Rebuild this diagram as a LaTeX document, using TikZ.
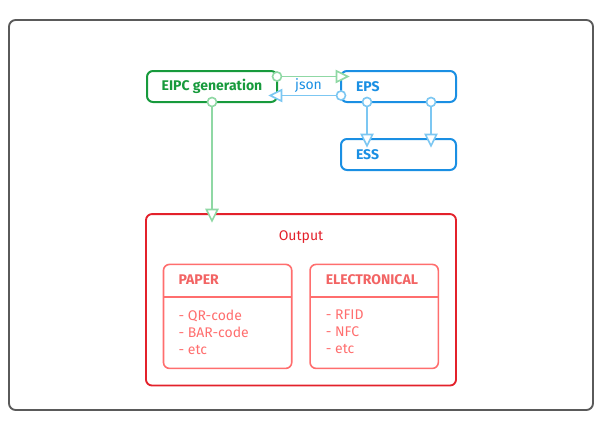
\documentclass[tikz,border=0pt]{standalone}
\usepackage{fontspec}
\setmainfont{Fira Sans}
\usetikzlibrary{arrows.meta,calc}
\definecolor{gdark}{HTML}{179A3C}
\definecolor{glight}{HTML}{8FD8A4}
\definecolor{bdark}{HTML}{1A8FE3}
\definecolor{blight}{HTML}{7CC7F2}
\definecolor{rdark}{HTML}{E3212B}
\definecolor{rlight}{HTML}{FF6E6E}
\definecolor{rtext}{HTML}{F26464}
\definecolor{framegray}{HTML}{5A5A5A}
\tikzset{
  boxbase/.style={draw, rounded corners=4.5pt, line width=1.5pt, outer sep=0pt, inner sep=0pt},
  framebox/.style={boxbase, draw=framegray, line width=1.4pt, rounded corners=5pt, minimum width=438pt, minimum height=292.5pt},
  eipcbox/.style={boxbase, draw=gdark, text=gdark, font=\bfseries\fontsize{10.5}{12}\selectfont, minimum width=97.5pt, minimum height=23.25pt},
  bluebox/.style={boxbase, draw=bdark, text=bdark, font=\bfseries\fontsize{10.5}{12}\selectfont, minimum width=86.25pt, minimum height=23.25pt, inner xsep=11.25pt, text width=63.75pt, align=left},
  outbox/.style={boxbase, draw=rdark, line width=1.4pt, minimum width=232.5pt, minimum height=128.6pt},
  innerbox/.style={boxbase, draw=rlight, line width=1.2pt, minimum width=96.2pt, minimum height=78pt},
  headtext/.style={text=rtext, font=\bfseries\fontsize{10.5}{12}\selectfont, anchor=west, inner sep=0pt},
  itemtext/.style={text=rlight, font=\fontsize{10.5}{12.75}\selectfont, anchor=north west, align=left, inner sep=0pt},
  gline/.style={draw=glight, line width=1.2pt,
    {Circle[fill=white, length=8pt, width=8pt, line width=1.2pt]}-{Triangle[fill=white, length=10.5pt, width=10pt, line width=1.2pt]},
    shorten <=-4pt, shorten >=-6.5pt},
  bline/.style={gline, draw=blight},
}
\begin{document}
\begin{tikzpicture}[x=0.75pt,y=-0.75pt]
\useasboundingbox (0,0) rectangle (602,429);
\node[framebox] (frame) at (301,215) {};

\node[eipcbox] (eipc) at (212,86.5) {EIPC generation};
\node[bluebox] (eps) at (398.5,86.5) {EPS};
\node[bluebox] (ess) at (398.5,154.5) {ESS};

\node[outbox] (output) at (301,299.8) {};
\node[text=rdark, font=\fontsize{10.5}{12}\selectfont, inner sep=0pt] (outlabel) at (301,237) {Output};

\node[innerbox] (paper) at (227.6,316.4) {};
\node[innerbox] (elec) at (374.2,316.4) {};
\draw[rlight, line width=1.2pt] (paper.west |- 0,296.7) coordinate (ps1) -- (paper.east |- 0,296.7) coordinate (ps2);
\draw[rlight, line width=1.2pt] (elec.west |- 0,296.7) coordinate (es1) -- (elec.east |- 0,296.7) coordinate (es2);
\node[headtext] (paperhead) at (178.3,280) {PAPER};
\node[headtext] (elechead) at (325.5,280) {ELECTRONICAL};
\node[itemtext] (paperitems) at (178.3,309.5) {- QR-code\\- BAR-code\\- etc};
\node[itemtext] (elecitems) at (325.5,309.5) {- RFID\\- NFC\\- etc};

\node[text=bdark, font=\fontsize{10.5}{12}\selectfont, inner sep=0pt] (json) at (308.5,86) {json};

\draw[gline] ($(eipc.north east)+(0,5.5)$) -- ($(eps.north west)+(0,5.5)$);
\draw[bline] ($(eps.south west)+(0,-6.5)$) -- ($(eipc.south east)+(0,-6.5)$);
\draw[bline] ($(eps.south west)+(26,0)$) -- ($(ess.north west)+(26,0)$);
\draw[bline] ($(eps.south west)+(90,0)$) -- ($(ess.north west)+(90,0)$);
\draw[gline] (eipc.south) -- (eipc.south |- output.north);
\end{tikzpicture}
\end{document}
